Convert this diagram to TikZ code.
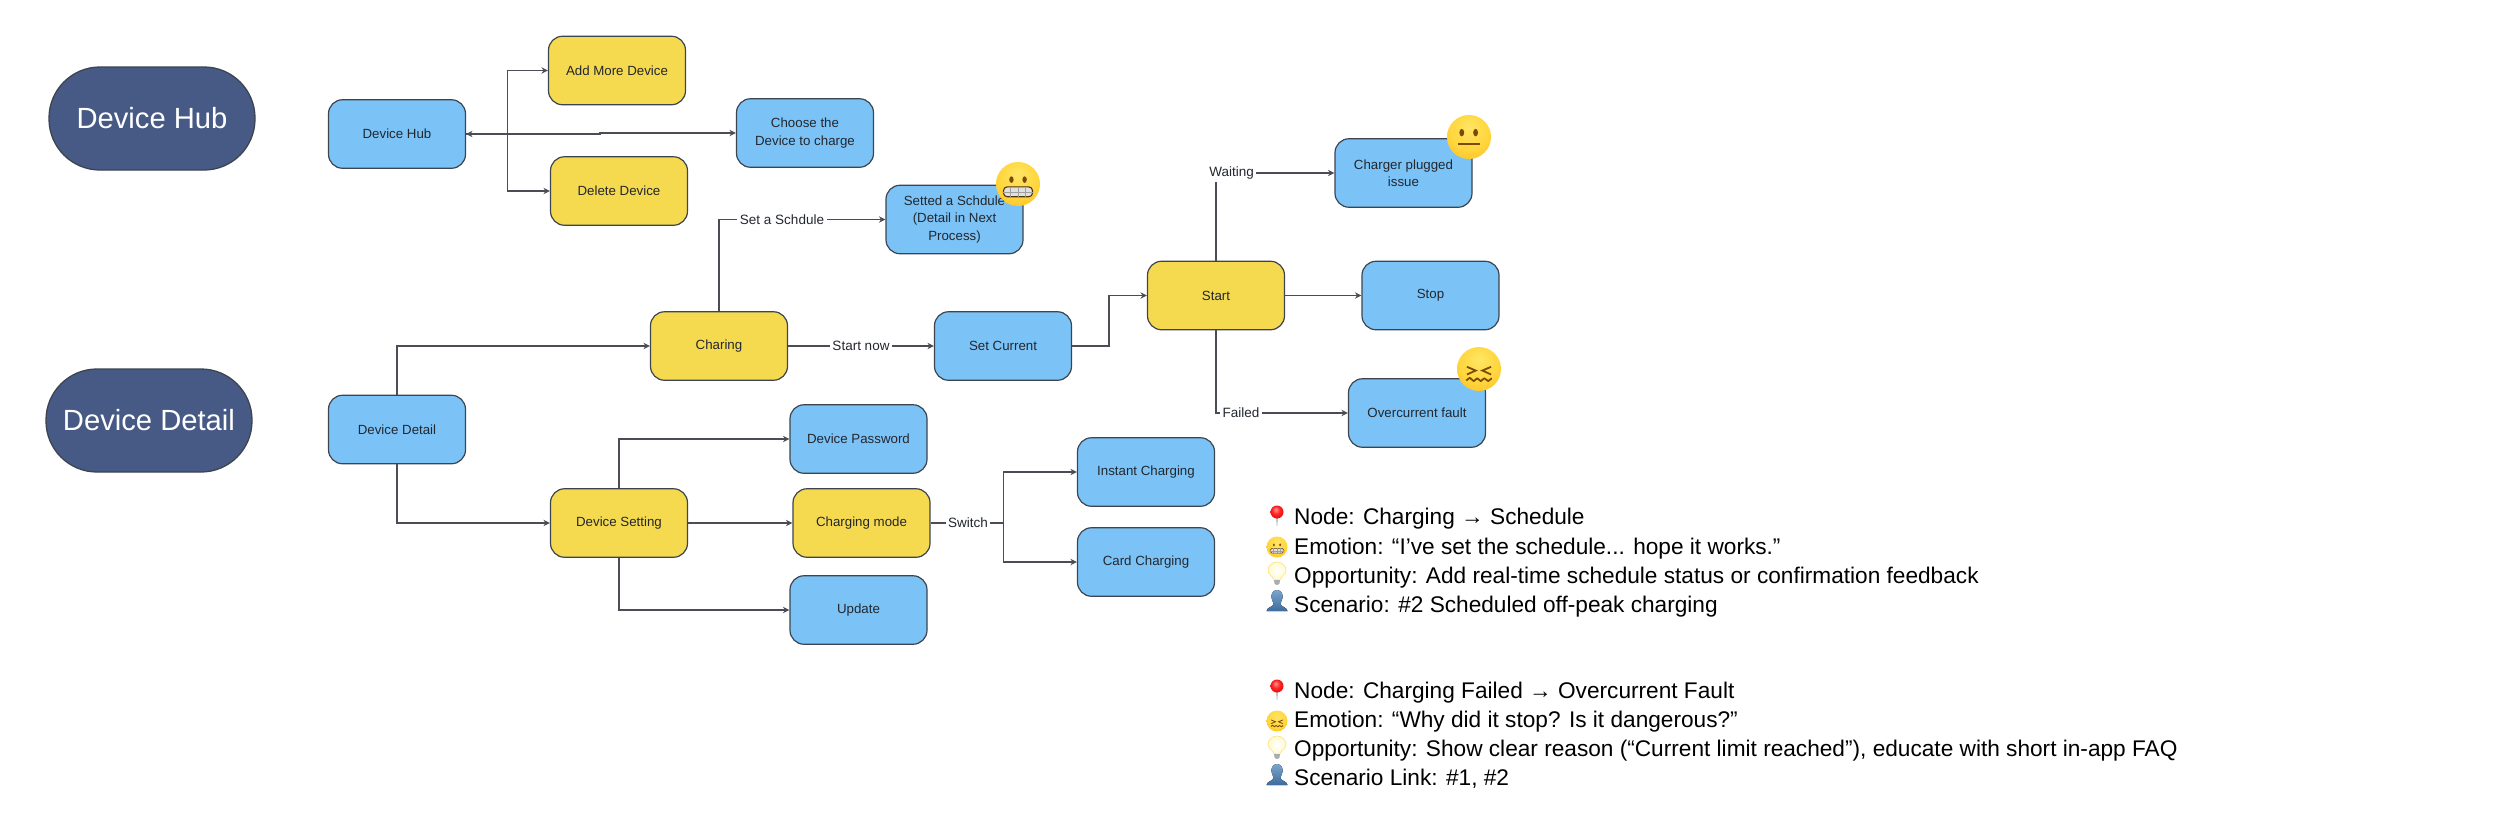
\documentclass[tikz,border=0pt]{standalone}
\usepackage{fontspec}
\setmainfont{Liberation Sans}
\usetikzlibrary{arrows.meta}
\definecolor{boxblue}{HTML}{7BC3F7}
\definecolor{boxyellow}{HTML}{F5DA50}
\definecolor{pillblue}{HTML}{475A85}
\definecolor{edgedark}{HTML}{3C4450}
\definecolor{linkgrey}{HTML}{4A4D55}
\definecolor{inktext}{HTML}{23272E}
\definecolor{featbrown}{HTML}{7A4A08}
\definecolor{faceA}{HTML}{FFE566}
\definecolor{faceB}{HTML}{FFD63C}
\definecolor{faceC}{HTML}{FFC42A}
\definecolor{faceD}{HTML}{F8A51C}
\definecolor{faceE}{HTML}{E8820C}
\definecolor{bulbA}{HTML}{FFFFFF}
\definecolor{bulbB}{HTML}{FFF9CF}
\definecolor{bulbC}{HTML}{FFE680}
\definecolor{bulbD}{HTML}{FFE27A}
\definecolor{bustA}{HTML}{7AA6CC}
\definecolor{bustB}{HTML}{3D6C9B}
\pgfdeclareradialshading{emojiface}{\pgfpoint{0bp}{12bp}}{
 color(0bp)=(faceA);
 color(22bp)=(faceB);
 color(34bp)=(faceC);
 color(44bp)=(faceD);
 color(58bp)=(faceE)}
\pgfdeclareradialshading{emojipin}{\pgfpoint{-6bp}{10bp}}{
 color(0bp)=(red!40!white);
 color(15bp)=(red!85!white);
 color(35bp)=(red!85!black);
 color(50bp)=(red!60!black)}
\pgfdeclareradialshading{emojibulb}{\pgfpoint{0bp}{0bp}}{
 color(0bp)=(bulbA);
 color(25bp)=(bulbB);
 color(50bp)=(bulbC)}
\tikzset{
 x=1pt,y=-1pt,
 boxnode/.style={draw=edgedark,line width=1.2pt,rounded corners=14pt,minimum width=137pt,minimum height=68.5pt,
   font=\fontsize{13.3}{17.4}\selectfont,text=inktext,align=center,inner sep=0pt},
 bluebox/.style={boxnode,fill=boxblue},
 yellowbox/.style={boxnode,fill=boxyellow},
 pillnode/.style={draw=edgedark,line width=1.3pt,fill=pillblue,rounded corners=51pt,minimum width=206pt,minimum height=103pt,
   font=\fontsize{29.2}{36}\selectfont,text=white,inner sep=0pt},
 link/.style={draw=linkgrey,line width=1.15pt,-{Stealth[length=6.5pt,width=6.5pt]}},
 plainlink/.style={draw=linkgrey,line width=1.15pt},
 edgelabel/.style={fill=white,inner sep=2.5pt,font=\fontsize{13.5}{17}\selectfont,text=inktext},
 note/.style={anchor=base west,inner sep=0pt,font=\fontsize{22.65}{26}\selectfont,text=black},
}
\newcommand{\faceDisc}{\shade[shading=emojiface] (0,0) circle[radius=1];}
\newcommand{\emojiGrimace}[3]{\begin{scope}[shift={(#1,#2)},x=#3pt,y=-#3pt]\faceDisc
 \fill[featbrown] (-.3,-.2) ellipse[x radius=.1,y radius=.15] (.3,-.2) ellipse[x radius=.1,y radius=.15];
 \filldraw[draw=featbrown!70!black,fill=white!88!black,line width=#3*.05pt,rounded corners=#3*.17pt] (-.66,.13) rectangle (.66,.58);
 \draw[gray!75,line width=#3*.025pt] (-.66,.355)--(.66,.355) (-.33,.13)--(-.33,.58) (0,.13)--(0,.58) (.33,.13)--(.33,.58);
 \end{scope}}
\newcommand{\emojiNeutral}[3]{\begin{scope}[shift={(#1,#2)},x=#3pt,y=-#3pt]\faceDisc
 \fill[featbrown] (-.33,-.2) ellipse[x radius=.11,y radius=.17] (.3,-.2) ellipse[x radius=.11,y radius=.17];
 \draw[featbrown,line width=#3*.07pt] (-.5,.33)--(.5,.33);
 \end{scope}}
\newcommand{\emojiConfound}[3]{\begin{scope}[shift={(#1,#2)},x=#3pt,y=-#3pt]\faceDisc
 \draw[featbrown,line width=#3*.08pt] (-.55,-.1)--(-.15,.07)--(-.55,.25) (.55,-.1)--(.15,.07)--(.55,.25);
 \draw[featbrown,line width=#3*.08pt,line join=round] (-.58,.52)--(-.42,.4)--(-.24,.55)--(-.08,.42)--(.08,.55)--(.24,.42)--(.42,.55)--(.58,.42);
 \end{scope}}
\newcommand{\emojiPin}[2]{\begin{scope}[shift={(#1,#2)}]
 \fill[gray!70] (-1,3) -- (1,3) -- (0.2,14) -- (-0.2,14) -- cycle;
 \shade[shading=emojipin] (0,0) circle[radius=6.5];
 \end{scope}}
\newcommand{\emojiBulb}[2]{\begin{scope}[shift={(#1,#2)}]
 \shade[shading=emojibulb,draw=bulbD,line width=.6pt] (-3,8) .. controls (-4,4) and (-9,3) .. (-9,-2) .. controls (-9,-7) and (-4,-10) .. (0,-10) .. controls (4,-10) and (9,-7) .. (9,-2) .. controls (9,3) and (4,4) .. (3,8) -- cycle;
 \fill[gray!65] (-3,8) -- (3,8) -- (2.4,12) -- (0,13) -- (-2.4,12) -- cycle;
 \end{scope}}
\newcommand{\emojiBust}[2]{\begin{scope}[shift={(#1,#2)}]
 \fill[top color=bustA,bottom color=bustB] (0,-11) .. controls (5,-11) and (6,-6) .. (5.5,-3) .. controls (5,0) and (3.5,1) .. (3.5,3) .. controls (4,6) and (10,6) .. (10.5,10) -- (-10.5,10) .. controls (-10,6) and (-4,6) .. (-3.5,3) .. controls (-3.5,1) and (-5,0) .. (-5.5,-3) .. controls (-6,-6) and (-5,-11) .. (0,-11) -- cycle;
 \end{scope}}
\begin{document}
\begin{tikzpicture}
% title pills
\node[pillnode] (pillhub) at (152,118.5) {Device Hub};
\node[pillnode] (pilldetail) at (149,420.5) {Device Detail};
% boxes
\node[bluebox] (hub) at (397,134) {Device Hub};
\node[yellowbox] (add) at (617,70.5) {Add More Device};
\node[bluebox] (choose) at (805,133) {Choose the\\Device to charge};
\node[yellowbox] (del) at (619,191) {Delete Device};
\node[bluebox] (setted) at (954.5,219.5) {Setted a Schdule\\(Detail in Next\\Process)};
\node[yellowbox] (charing) at (719,346) {Charing};
\node[bluebox] (setcur) at (1003,346) {Set Current};
\node[yellowbox] (start) at (1216,295.5) {Start};
\node[bluebox] (plugged) at (1403.5,173) {Charger plugged\\issue};
\node[bluebox] (stop) at (1430.5,295.5) {Stop};
\node[bluebox] (over) at (1417,413) {Overcurrent fault};
\node[bluebox] (detail) at (397,429.5) {Device Detail};
\node[yellowbox] (setting) at (619,523) {Device Setting};
\node[bluebox] (pass) at (858.5,439) {Device Password};
\node[yellowbox] (mode) at (861.5,523) {Charging mode};
\node[bluebox] (update) at (858.5,610) {Update};
\node[bluebox] (instant) at (1146,472) {Instant Charging};
\node[bluebox] (card) at (1146,562) {Card Charging};
% junction points
\coordinate (jhub) at (507.5,134);
\coordinate (jog) at (600,133);
\coordinate (jcur) at (1109,346);
\coordinate (jsw) at (1003.5,523);
% connectors
\draw[link] (hub.east) -- (jhub) |- (add.west);
\draw[link] (hub.east) -- (jhub) |- (del.west);
\draw[link,{Stealth[length=6.5pt,width=6.5pt]}-{Stealth[length=6.5pt,width=6.5pt]}] (hub.east) -| (jog) |- (choose.west);
\draw[link] (charing.north) |- (setted.west);
\draw[link] (charing.east) -- (setcur.west);
\draw[link] (detail.north) |- (charing.west);
\draw[link] (setcur.east) -- (jcur) |- (start.west);
\draw[link] (start.north) |- (plugged.west);
\draw[link] (start.east) -- (stop.west);
\draw[link] (start.south) |- (over.west);
\draw[link] (detail.south) |- (setting.west);
\draw[link] (setting.north) |- (pass.west);
\draw[link] (setting.east) -- (mode.west);
\draw[link] (setting.south) |- (update.west);
\draw[plainlink] (mode.east) -- (jsw);
\draw[link] (jsw) |- (instant.west);
\draw[link] (jsw) |- (card.west);
% connector labels
\node[edgelabel] (lsched) at (782,219.5) {Set a Schdule};
\node[edgelabel] (lnow) at (861,346) {Start now};
\node[edgelabel] (lwait) at (1231.5,173) {Waiting};
\node[edgelabel] (lfail) at (1241,413) {Failed};
\node[edgelabel] (lswitch) at (968,523) {Switch};
% faces on boxes
\emojiGrimace{1018}{184}{22}
\emojiNeutral{1469}{137}{22}
\emojiConfound{1479}{369}{22}
% notes
\emojiPin{1277}{512}
\node[note] (n1) at (1294,524.5) {Node: Charging → Schedule};
\emojiGrimace{1277}{547}{10.5}
\node[note] (n2) at (1294,554) {Emotion: “I’ve set the schedule... hope it works.”};
\emojiBulb{1277}{572}
\node[note] (n3) at (1294,583) {Opportunity: Add real-time schedule status or confirmation feedback};
\emojiBust{1277}{601}
\node[note] (n4) at (1294,612.5) {Scenario: \#2 Scheduled off-peak charging};
\emojiPin{1277}{686}
\node[note] (n5) at (1294,698.5) {Node: Charging Failed → Overcurrent Fault};
\emojiConfound{1277}{721}{10.5}
\node[note] (n6) at (1294,727.5) {Emotion: “Why did it stop? Is it dangerous?”};
\emojiBulb{1277}{746}
\node[note] (n7) at (1294,756.5) {Opportunity: Show clear reason (“Current limit reached”), educate with short in-app FAQ};
\emojiBust{1277}{775}
\node[note] (n8) at (1294,785.5) {Scenario Link: \#1, \#2};
\pgfresetboundingbox
\useasboundingbox (0,0) rectangle (2500,815);
\end{tikzpicture}
\end{document}
